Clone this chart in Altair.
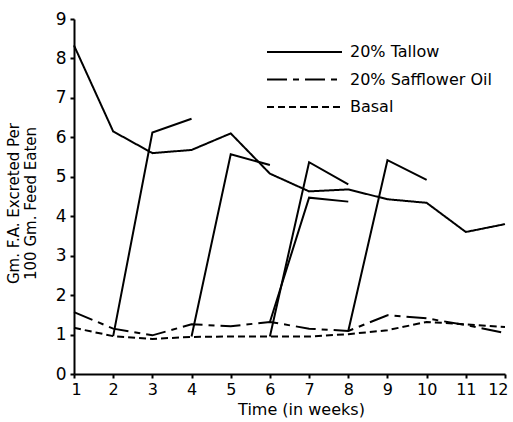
import altair as alt
import pandas as pd

weeks = [1, 2, 3, 4, 5, 6, 7, 8, 9, 10, 11, 12]
tallow = [8.33, 6.15, 5.6, 5.68, 6.1, 5.08, 4.63, 4.68, 4.43, 4.34, 3.6, 3.8]
safflower = [1.57, 1.15, 0.98, 1.26, 1.21, 1.32, 1.15, 1.09, 1.49, 1.41, 1.24, 1.04]
basal = [1.17, 0.96, 0.89, 0.94, 0.95, 0.95, 0.95, 1.01, 1.11, 1.32, 1.26, 1.19]
series_names = ["20% Tallow", "20% Safflower Oil", "Basal"]
legend_rows = [0, 1, 2]
y_ticks = [0, 1, 2, 3, 4, 5, 6, 7, 8, 9]

# switch-over segments (week, value) drawn solid
seg_ids = ["A", "A", "A", "B", "B", "B", "C", "C", "C", "D", "D", "D", "E", "E", "E"]
seg_weeks = [2, 3, 4, 4, 5, 6, 6, 7, 8, 6, 7, 8, 8, 9, 10]
seg_values = [0.96, 6.12, 6.47, 0.95, 5.57, 5.3, 0.95, 5.37, 4.81, 1.32, 4.47, 4.37, 1.09, 5.42, 4.92]

rows = []
for name, vals in zip(series_names, [tallow, safflower, basal]):
    for w, v in zip(weeks, vals):
        rows.append({"week": w, "value": v, "series": name})
main_df = pd.DataFrame(rows)
seg_df = pd.DataFrame({"seg": seg_ids, "week": seg_weeks, "value": seg_values})
legend_df = pd.DataFrame({"series": series_names, "row": legend_rows})

FONT = "DejaVu Sans"

xscale = alt.Scale(domain=[1, 12], nice=False, zero=False)
yscale = alt.Scale(domain=[0, 9], nice=False)
dash_scale = alt.Scale(domain=series_names, range=[[1, 0], [20, 6, 6, 6], [7, 4]])

xaxis = alt.Axis(values=weeks, title="Time (in weeks)", grid=False, tickSize=4,
                 labelFontSize=16, labelPadding=3, labelOverlap=False,
                 labelFlush=True, labelFlushOffset=3,
                 titleFontSize=16, titleFontWeight="normal",
                 titleX=227, titleY=27, domainWidth=2, tickWidth=2)
yaxis = alt.Axis(values=y_ticks, title=["Gm. F.A. Excreted Per", "100 Gm. Feed Eaten"],
                 grid=False, tickSize=4, labelFontSize=17, labelPadding=4,
                 labelOverlap=False, labelFlush=False,
                 titleFontSize=15, titleFontWeight="normal", titleAngle=-90,
                 titleAlign="center", titleBaseline="top", titleX=-68, titleY=184,
                 titleLineHeight=17, domainWidth=2, tickWidth=2)

main = alt.Chart(main_df).mark_line(color="black", strokeWidth=2).encode(
    x=alt.X("week:Q", scale=xscale, axis=xaxis),
    y=alt.Y("value:Q", scale=yscale, axis=yaxis),
    strokeDash=alt.StrokeDash("series:N", scale=dash_scale, legend=None),
    detail="series:N",
)

segs = alt.Chart(seg_df).mark_line(color="black", strokeWidth=2).encode(
    x=alt.X("week:Q", scale=xscale, axis=xaxis),
    y=alt.Y("value:Q", scale=yscale, axis=yaxis),
    detail="seg:N",
)

# hand-drawn style legend (layout positions only)
leg_y = alt.Y("row:Q", scale=alt.Scale(domain=[0, 2], range=[33, 88], nice=False, zero=False), axis=None)
leg_lines = alt.Chart(legend_df).mark_rule(color="black", strokeWidth=2).encode(
    x=alt.value(193), x2=alt.value(268), y=leg_y,
    strokeDash=alt.StrokeDash("series:N", scale=dash_scale, legend=None),
)
leg_text = alt.Chart(legend_df).mark_text(
    align="left", baseline="middle", fontSize=16, font=FONT, color="black"
).encode(x=alt.value(276), y=leg_y, text="series:N")

legend = alt.layer(leg_lines, leg_text)

chart = alt.layer(alt.layer(main, segs), legend).resolve_scale(y="independent").properties(
    width=431, height=355,
    autosize=alt.AutoSizeParams(type="none"),
    padding={"left": 74, "top": 19, "right": 8, "bottom": 48},
).configure_view(stroke=None).configure_axis(
    labelFont=FONT, titleFont=FONT, domainColor="black", tickColor="black",
    labelColor="black", titleColor="black",
)

chart.save("out.html", embed_options={"renderer": "svg", "actions": False})
